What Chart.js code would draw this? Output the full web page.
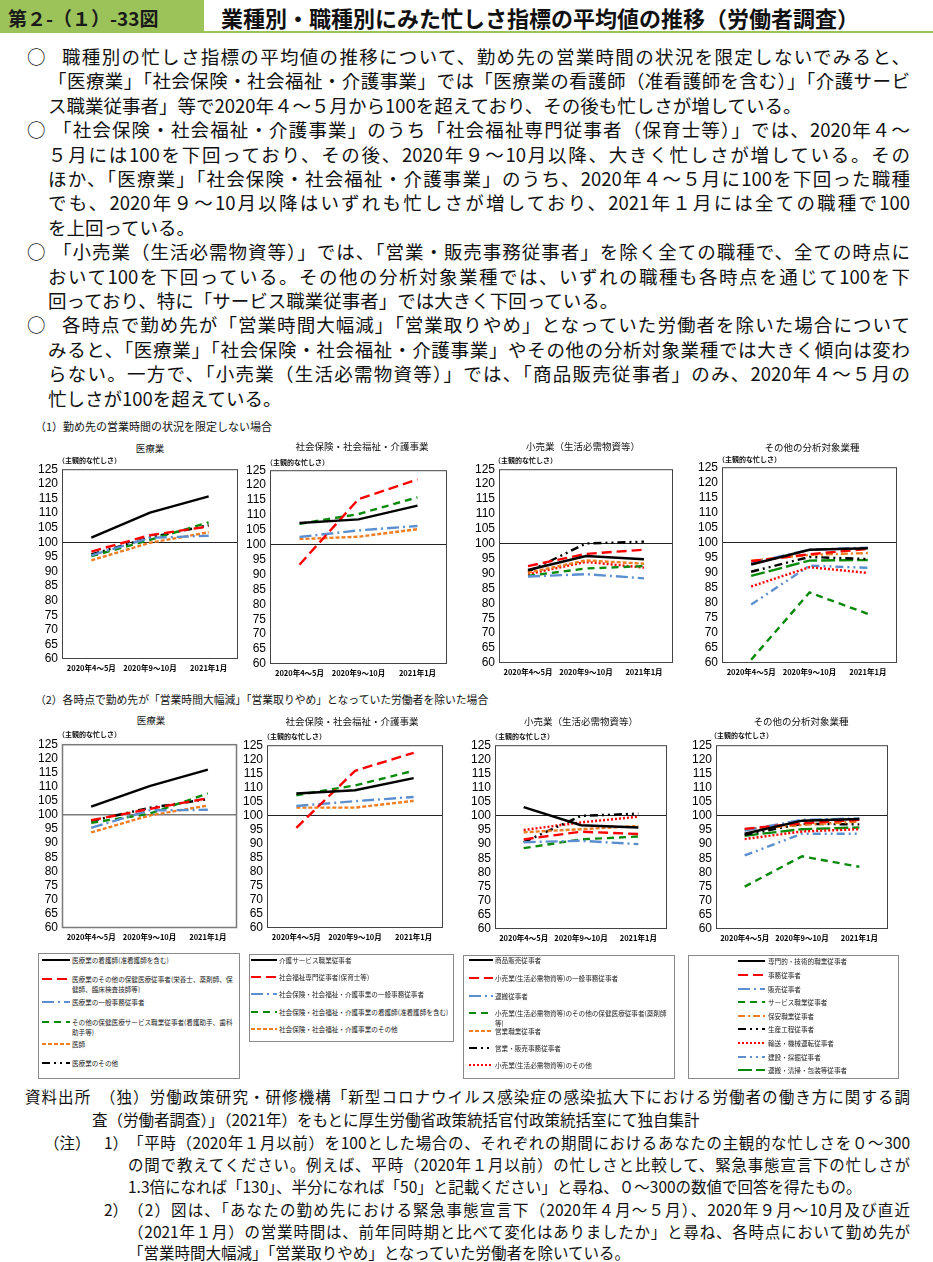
<!DOCTYPE html>
<html lang="ja">
<head>
<meta charset="utf-8">
<script src="https://cdn.jsdelivr.net/npm/chart.js@4.4.1/dist/chart.umd.min.js"></script>
<style>
  body { margin: 0; background: #fff; }
  #page { position: relative; width: 933px; height: 1262px; overflow: hidden;
          font-family: "Noto Sans CJK JP", "Noto Sans", sans-serif; color: #111; }
  .t { position: absolute; white-space: nowrap; line-height: 1; transform: translateY(-50%); z-index: 2; }
  .j { text-align: justify; text-align-last: justify; }
  canvas.chart { position: absolute; z-index: 1; }
  .lgbox { position: absolute; border: 1px solid #8a8a8a; }
  .lgtext { position: absolute; font-size: 6.6px; line-height: 10px; color: #222; z-index: 2; }
  .lgline { position: absolute; z-index: 2; }
</style>
</head>
<body>
<div id="page"></div>
<script>
// x categories
const periods = ['2020年4～5月', '2020年9～10月', '2021年1月'];

// 医療業
const medLabels = ['医療業の看護師(准看護師を含む)', '医療業のその他の保健医療従事者(栄養士、薬剤師、保健師、臨床検査技師等)',
  '医療業の一般事務従事者', 'その他の保健医療サービス職業従事者(看護助手、歯科助手等)', '医師', '医療業のその他'];
const med1 = [[101.6, 110.1, 115.7], [96.8, 102.4, 105.4], [95.5, 101.5, 102.2],
              [95.2, 100.8, 106.8], [93.8, 99.8, 103.4], [95.8, 101.6, 105.8]];
const med2 = [[102.9, 110.2, 116.0], [98.1, 102.1, 105.9], [95.4, 101.6, 101.8],
              [97.2, 100.4, 107.6], [93.8, 99.8, 103.3], [97.8, 102.5, 105.6]];

// 社会保険・社会福祉・介護事業
const welLabels = ['介護サービス職業従事者', '社会福祉専門従事者(保育士等)', '社会保険・社会福祉・介護事業の一般事務従事者',
  '社会保険・社会福祉・介護事業の看護師(准看護師を含む)', '社会保険・社会福祉・介護事業のその他'];
const wel1 = [[107.3, 108.5, 113.1], [93.3, 115.3, 121.9], [102.6, 104.8, 106.3],
              [107.0, 110.3, 115.9], [101.9, 102.7, 105.2]];
const wel2 = [[107.8, 109.0, 113.3], [95.6, 115.9, 122.3], [103.4, 105.1, 106.6],
              [107.2, 110.7, 115.9], [102.8, 102.8, 105.2]];

// 小売業（生活必需物資等）
const retLabels = ['商品販売従事者', '小売業(生活必需物資等)の一般事務従事者', '運搬従事者',
  '小売業(生活必需物資等)のその他の保健医療従事者(薬剤師等)', '営業職業従事者', '営業・販売事務従事者',
  '小売業(生活必需物資等)のその他'];
const ret1 = [[91.2, 95.9, 94.8], [92.5, 96.6, 98.0], [89.0, 89.8, 88.4], [89.2, 91.7, 92.5],
              [90.3, 94.4, 93.3], [90.6, 100.1, 100.7], [89.8, 93.9, 92.0]];
const ret2 = [[103.1, 96.7, 95.9], [91.7, 94.4, 93.6], [90.7, 91.2, 90.0], [88.6, 91.7, 92.7],
              [94.2, 95.3, 96.4], [90.7, 100.0, 100.8], [95.0, 97.7, 99.7]];

// その他の分析対象業種
const othLabels = ['専門的・技術的職業従事者', '事務従事者', '販売従事者', 'サービス職業従事者', '保安職業従事者',
  '生産工程従事者', '輸送・機械運転従事者', '建設・採掘従事者', '運搬・清掃・包装等従事者'];
const oth1 = [[92.7, 97.6, 98.1], [93.8, 96.1, 97.9], [93.2, 97.6, 98.3], [61.1, 83.4, 76.3], [94.0, 95.9, 96.5],
              [90.3, 95.2, 94.5], [85.4, 91.8, 89.9], [79.4, 92.3, 91.6], [88.9, 94.0, 94.2]];
const oth2 = [[93.7, 98.3, 98.9], [95.4, 97.4, 98.6], [94.8, 98.6, 99.1], [75.0, 85.7, 82.0], [95.3, 96.8, 98.0],
              [93.3, 97.2, 97.0], [91.8, 94.5, 95.3], [86.0, 93.7, 93.7], [93.0, 95.3, 95.9]];

// line styles
const BLACK = '#000000', RED = '#ff0000', BLUE = '#5b8fd0', GREEN = '#0a8a0a', ORANGE = '#ef7d22';
const SOLID = [], DASH = [10, 5], DASHDOT = [12, 4, 2, 4], MDASH = [7, 5], SDASH = [4, 2],
      DASHDOTDOT = [8, 4, 2, 4, 2, 4], DOT = [2, 2], LDASH = [14, 4], ODASHDOT = [7, 3, 2, 3];
const medStyles = [[BLACK, SOLID], [RED, DASH], [BLUE, DASHDOT], [GREEN, MDASH], [ORANGE, SDASH], [BLACK, DASHDOTDOT]];
const welStyles = [[BLACK, SOLID], [RED, DASH], [BLUE, DASHDOT], [GREEN, MDASH], [ORANGE, SDASH]];
const retStyles = [[BLACK, SOLID], [RED, DASH], [BLUE, DASHDOT], [GREEN, MDASH], [ORANGE, SDASH], [BLACK, DASHDOTDOT], [RED, DOT]];
const othStyles = [[BLACK, SOLID], [RED, DASH], [BLUE, DASHDOT], [GREEN, MDASH], [ORANGE, ODASHDOT],
                   [BLACK, DASHDOTDOT], [RED, DOT], [BLUE, DASHDOTDOT], [GREEN, LDASH]];

const page = document.getElementById('page');

function put(html, x, y, size, extra) {
  const d = document.createElement('div');
  d.className = 't';
  d.style.left = x + 'px';
  d.style.top = y + 'px';
  d.style.fontSize = size + 'px';
  if (extra) Object.assign(d.style, extra);
  d.innerHTML = html;
  page.appendChild(d);
  return d;
}
function putCenter(html, cx, y, size, extra) {
  const d = put(html, cx, y, size, extra);
  d.style.transform = 'translate(-50%,-50%)';
  return d;
}

// header
const hb = document.createElement('div');
Object.assign(hb.style, { position: 'absolute', left: '0px', top: '0px', width: '204px', height: '33px', background: '#9cc35a' });
page.appendChild(hb);
const hl = document.createElement('div');
Object.assign(hl.style, { position: 'absolute', left: '204px', top: '31px', width: '729px', height: '2px', background: '#9cc35a' });
page.appendChild(hl);
put('第２-（１）-33図', 8, 17, 19, { fontWeight: 'bold', color: '#1a1a1a' });
put('業種別・職種別にみた忙しさ指標の平均値の推移（労働者調査）', 221, 17, 22, { fontWeight: 'bold' });

// body text
const bodyLines = [
  [62, '職種別の忙しさ指標の平均値の推移について、勤め先の営業時間の状況を限定しないでみると、', true, true],
  [48, '「医療業」「社会保険・社会福祉・介護事業」では「医療業の看護師（准看護師を含む）」「介護サービ', true],
  [48, 'ス職業従事者」等で2020年４～５月から100を超えており、その後も忙しさが増している。', false],
  [53, '「社会保険・社会福祉・介護事業」のうち「社会福祉専門従事者（保育士等）」では、2020年４～', true, true],
  [48, '５月には100を下回っており、その後、2020年９～10月以降、大きく忙しさが増している。その', true],
  [48, 'ほか、「医療業」「社会保険・社会福祉・介護事業」のうち、2020年４～５月に100を下回った職種', true],
  [48, 'でも、2020年９～10月以降はいずれも忙しさが増しており、2021年１月には全ての職種で100', true],
  [48, 'を上回っている。', false],
  [53, '「小売業（生活必需物資等）」では、「営業・販売事務従事者」を除く全ての職種で、全ての時点に', true, true],
  [48, 'おいて100を下回っている。その他の分析対象業種では、いずれの職種も各時点を通じて100を下', true],
  [48, '回っており、特に「サービス職業従事者」では大きく下回っている。', false],
  [62, '各時点で勤め先が「営業時間大幅減」「営業取りやめ」となっていた労働者を除いた場合について', true, true],
  [48, 'みると、「医療業」「社会保険・社会福祉・介護事業」やその他の分析対象業種では大きく傾向は変わ', true],
  [48, 'らない。一方で、「小売業（生活必需物資等）」では、「商品販売従事者」のみ、2020年４～５月の', true],
  [48, '忙しさが100を超えている。', false]
];
bodyLines.forEach((ln, i) => {
  const y = 56 + i * 24.4;
  if (ln[3]) put('○', 27, y, 18.5);
  const d = put(ln[1], ln[0], y, 18.5);
  if (ln[2]) { d.classList.add('j'); d.style.width = (910 - ln[0]) + 'px'; d.style.whiteSpace = 'normal'; }
});

// section labels
put('（1）勤め先の営業時間の状況を限定しない場合', 35, 426, 11);
put('（2）各時点で勤め先が「営業時間大幅減」「営業取りやめ」となっていた労働者を除いた場合', 35, 699, 10.8);

// chart panels
const panels = [
  { title: '医療業', tx: 150, ty: 449, sx: 62, sy: 460, labels: medLabels, values: med1, styles: medStyles, area: [62, 466, 238, 659] },
  { title: '社会保険・社会福祉・介護事業', tx: 362, ty: 447, sx: 270, sy: 462, labels: welLabels, values: wel1, styles: welStyles, area: [270, 467, 447, 664] },
  { title: '小売業（生活必需物資等）', tx: 583, ty: 447, sx: 498, sy: 460, labels: retLabels, values: ret1, styles: retStyles, area: [499, 466, 673, 663] },
  { title: 'その他の分析対象業種', tx: 812, ty: 448, sx: 722, sy: 459, labels: othLabels, values: oth1, styles: othStyles, area: [722, 464, 897, 663] },
  { title: '医療業', tx: 151, ty: 721, sx: 62, sy: 734, labels: medLabels, values: med2, styles: medStyles, area: [62, 741, 237, 928], frame: '#7a7a7a', frameW: 1.5 },
  { title: '社会保険・社会福祉・介護事業', tx: 352, ty: 722, sx: 267, sy: 736, labels: welLabels, values: wel2, styles: welStyles, area: [267, 742, 443, 928] },
  { title: '小売業（生活必需物資等）', tx: 581, ty: 722, sx: 495, sy: 736, labels: retLabels, values: ret2, styles: retStyles, area: [495, 742, 667, 929] },
  { title: 'その他の分析対象業種', tx: 801, ty: 722, sx: 714, sy: 735, labels: othLabels, values: oth2, styles: othStyles, area: [716, 742, 888, 929] }
];

const YW = 34, PT = 8, PR = 4, XH = 19;

const framePlugin = {
  id: 'frame',
  beforeDatasetsDraw(chart, args, opts) {
    const a = chart.chartArea, ctx = chart.ctx;
    ctx.save();
    ctx.strokeStyle = opts.color || '#444';
    ctx.lineWidth = opts.width || 1;
    ctx.strokeRect(a.left + 0.5, a.top + 0.5, a.right - a.left - 1, a.bottom - a.top - 1);
    ctx.restore();
  }
};

panels.forEach(p => {
  putCenter(p.title, p.tx, p.ty, 9.5);
  put('（主観的な忙しさ）', p.sx - 4, p.sy, 7, { fontWeight: 'bold' });

  const [l, t, r, b] = p.area;
  const cv = document.createElement('canvas');
  cv.className = 'chart';
  cv.width = r - l + YW + PR;
  cv.height = b - t + PT + XH;
  cv.style.left = (l - YW) + 'px';
  cv.style.top = (t - PT) + 'px';
  page.appendChild(cv);

  new Chart(cv.getContext('2d'), {
    type: 'line',
    data: {
      labels: periods,
      datasets: p.values.map((v, i) => ({
        label: p.labels[i],
        data: v,
        borderColor: p.styles[i][0],
        borderDash: p.styles[i][1],
        borderWidth: 2.4,
        pointRadius: 0,
        tension: 0,
        fill: false
      }))
    },
    options: {
      responsive: false,
      animation: false,
      devicePixelRatio: 1,
      layout: { padding: { top: PT, right: PR, left: 0, bottom: 0 } },
      plugins: {
        legend: { display: false },
        tooltip: { enabled: false },
        frame: { color: p.frame || '#444', width: p.frameW || 1 }
      },
      scales: {
        x: {
          offset: true,
          grid: { display: false, drawTicks: false },
          border: { display: false },
          ticks: { color: '#000', padding: 5, maxRotation: 0, autoSkip: false,
                   font: { size: 7.5, weight: 'bold', family: '"Noto Sans CJK JP"' } },
          afterFit(s) { s.height = XH; }
        },
        y: {
          min: 60, max: 125,
          ticks: { stepSize: 5, autoSkip: false, color: '#000', padding: 4,
                   font: { size: 12, family: '"Liberation Sans", Arial' } },
          grid: { drawTicks: false, lineWidth: p.frameW || 1,
                  color: c => (c.tick && c.tick.value === 100) ? (p.frame || '#222') : 'rgba(0,0,0,0)' },
          border: { display: false },
          afterFit(s) { s.width = YW; }
        }
      }
    },
    plugins: [framePlugin]
  });
});

// legends
const legends = [
  { box: [38, 953, 200, 124], lx: 42, lw: 28, tx: 72, tw: 162, ys: [960, 979, 1002, 1022, 1044, 1063], labels: medLabels, styles: medStyles },
  { box: [249, 954, 203, 86], lx: 251, lw: 26, tx: 279, tw: 170, ys: [960, 977, 994, 1012, 1029], labels: welLabels, styles: welStyles },
  { box: [463, 955, 210, 122], lx: 469, lw: 24, tx: 495, tw: 174, ys: [960, 978, 996, 1013, 1031, 1048, 1065], labels: retLabels, styles: retStyles },
  { box: [688, 955, 209, 122], lx: 738, lw: 27, tx: 768, tw: 125, ys: [961, 975, 989, 1002, 1016, 1029, 1043, 1057, 1070], labels: othLabels, styles: othStyles }
];
legends.forEach(g => {
  const bx = document.createElement('div');
  bx.className = 'lgbox';
  Object.assign(bx.style, { left: g.box[0] + 'px', top: g.box[1] + 'px', width: g.box[2] + 'px', height: g.box[3] + 'px' });
  page.appendChild(bx);
  g.labels.forEach((lab, i) => {
    const y = g.ys[i];
    const c = document.createElement('canvas');
    c.className = 'lgline';
    c.width = g.lw; c.height = 6;
    c.style.left = g.lx + 'px'; c.style.top = (y - 3) + 'px';
    page.appendChild(c);
    const x = c.getContext('2d');
    x.strokeStyle = g.styles[i][0];
    x.lineWidth = 2;
    x.setLineDash(g.styles[i][1]);
    x.beginPath(); x.moveTo(0, 3); x.lineTo(g.lw, 3); x.stroke();
    const t = document.createElement('div');
    t.className = 'lgtext';
    Object.assign(t.style, { left: g.tx + 'px', top: (y - 5) + 'px', width: g.tw + 'px' });
    t.textContent = lab;
    page.appendChild(t);
  });
});

// footer
const foot = [
  [25, 1097, '資料出所　（独）労働政策研究・研修機構「新型コロナウイルス感染症の感染拡大下における労働者の働き方に関する調', 910],
  [92, 1120, '査（労働者調査）」（2021年）をもとに厚生労働省政策統括官付政策統括室にて独自集計'],
  [128, 1143, '「平時（2020年１月以前）を100とした場合の、それぞれの期間におけるあなたの主観的な忙しさを０～300', 910],
  [128, 1165, 'の間で教えてください。例えば、平時（2020年１月以前）の忙しさと比較して、緊急事態宣言下の忙しさが', 910],
  [128, 1187, '1.3倍になれば「130」、半分になれば「50」と記載ください」と尋ね、０～300の数値で回答を得たもの。'],
  [128, 1210, '（2）図は、「あなたの勤め先における緊急事態宣言下（2020年４月～５月）、2020年９月～10月及び直近', 910],
  [128, 1232, '（2021年１月）の営業時間は、前年同時期と比べて変化はありましたか」と尋ね、各時点において勤め先が', 910],
  [128, 1253, '「営業時間大幅減」「営業取りやめ」となっていた労働者を除いている。']
];
foot.forEach(f => {
  const d = put(f[2], f[0], f[1], 15.5);
  if (f[3]) { d.classList.add('j'); d.style.width = (f[3] - f[0]) + 'px'; d.style.whiteSpace = 'normal'; }
});
put('（注）', 44, 1143, 15.5);
put('1）', 104, 1143, 15.5);
put('2）', 104, 1210, 15.5);
</script>
</body>
</html>
